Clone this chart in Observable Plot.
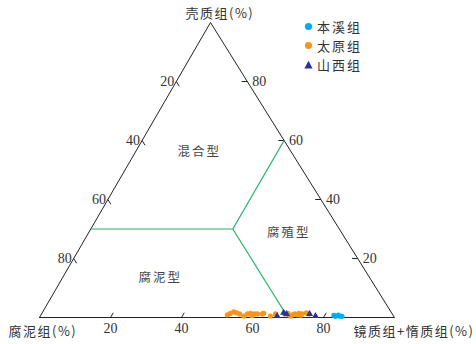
<!DOCTYPE html>
<html><head><meta charset="utf-8">
<script src="https://cdn.jsdelivr.net/npm/d3@7"></script>
<script src="https://cdn.jsdelivr.net/npm/@observablehq/plot@0.6"></script>
<style>
body{margin:0;background:#fff;}
#wrap{position:relative;width:476px;height:344px;}
.legend{position:absolute;left:304px;top:17px;font:13px "Noto Sans CJK SC";color:#333;letter-spacing:2px;}
.legend div{height:19px;line-height:19px;display:flex;align-items:center;}
.legend svg{margin-right:4px;}
</style></head><body><div id="wrap"></div>
<script>
// Ternary components (%): sapropel 腐泥组, vitrinite+inertinite 镜质组+惰质组, exinite 壳质组
const seriesNames = ["本溪组", "太原组", "山西组"];
const seriesColors = ["#00aeef", "#f7941d", "#2e3192"];

const benxiVI = [82.6, 83.2, 83.8, 84.3, 85.0];
const benxiShell = [0.7, 0.4, 0.8, 0.5, 0.4];

const taiyuanVI = [52.5, 53.1, 53.8, 54.7, 55.8, 57.3, 58.0, 58.8, 59.6, 60.0, 60.8, 62.2, 62.5, 64.8, 65.9, 68.5, 69.3, 70.5, 71.0, 71.3, 72.2, 72.4, 73.2, 73.4, 74.4, 75.3];
const taiyuanShell = [0.9, 1.4, 1.9, 1.6, 1.2, 0.5, 1.2, 1.4, 0.6, 1.2, 1.2, 1.2, 1.4, 0.5, 1.2, 1.2, 1.4, 0.5, 1.0, 1.2, 0.9, 1.4, 0.8, 1.2, 1.6, 1.2];

const shanxiVI = [66.7, 68.0, 69.0, 75.5, 77.5];
const shanxiShell = [0.5, 1.6, 1.2, 1.2, 0.5];

const tickValues = [20, 40, 60, 80];

// Class boundary lines: [sapropel, VI, shell]
const boundaryCenter = [30, 40, 30];
const boundaryEnds = [[70, 0, 30], [0, 40, 60], [30, 70, 0]];

const regionNames = ["混合型", "腐殖型", "腐泥型"];
const regionPos = [[26, 18, 56], [15, 56.5, 28.5], [59, 27.5, 13.5]];

const axisTitles = ["壳质组(%)", "腐泥组(%)", "镜质组+惰质组(%)"];

// projection (apex sits at 48.2% of the base width)
const APEX = 0.4817;
const proj = (vi, sh) => ({x: vi / 100 + APEX * sh / 100, y: sh / 100});

const pts = (vis, shs) => vis.map((v, i) => proj(v, shs[i]));
const benxi = pts(benxiVI, benxiShell);
const taiyuan = pts(taiyuanVI, taiyuanShell);
const shanxi = pts(shanxiVI, shanxiShell);

const verts = [proj(0, 0), proj(100, 0), proj(0, 100), proj(0, 0)];

const tl = 1.6;
const bottomTicks = tickValues.map(v => ({a: proj(v, 0), b: proj(v, tl), label: v}));
const rightTicks = tickValues.map(s => ({a: proj(100 - s, s), b: proj(100 - s - tl, s), label: s}));
const leftTicks = tickValues.map(sp => ({a: proj(0, 100 - sp), b: proj(tl, 100 - sp - tl), label: sp}));
const allTicks = [...bottomTicks, ...rightTicks, ...leftTicks];

const bLines = boundaryEnds.map(e => ({a: proj(boundaryCenter[1], boundaryCenter[2]), b: proj(e[1], e[2])}));
const regions = regionNames.map((n, i) => ({...proj(regionPos[i][1], regionPos[i][2]), n}));

const numFont = {fontFamily: "Liberation Serif", fontSize: 14, fill: "#333"};
const cjk = "'Noto Sans CJK SC'";

const plot = Plot.plot({
  width: 476, height: 344,
  marginLeft: 39, marginRight: 82, marginTop: 22, marginBottom: 27,
  x: {domain: [0, 1], axis: null},
  y: {domain: [0, 1], axis: null},
  style: {background: "#fff", overflow: "visible"},
  marks: [
    Plot.line(verts, {x: "x", y: "y", stroke: "#222", strokeWidth: 1}),
    Plot.link(allTicks, {x1: d => d.a.x, y1: d => d.a.y, x2: d => d.b.x, y2: d => d.b.y, stroke: "#222", strokeWidth: 1}),
    Plot.text(bottomTicks, {x: d => d.a.x, y: d => d.a.y, text: "label", dy: 11, ...numFont}),
    Plot.text(rightTicks, {x: d => d.a.x, y: d => d.a.y, text: "label", dx: 5, textAnchor: "start", ...numFont}),
    Plot.text(leftTicks, {x: d => d.a.x, y: d => d.a.y, text: "label", dx: -2, textAnchor: "end", ...numFont}),
    Plot.link(bLines, {x1: d => d.a.x, y1: d => d.a.y, x2: d => d.b.x, y2: d => d.b.y, stroke: "#22b163", strokeWidth: 1.2}),
    Plot.text(regions, {x: "x", y: "y", text: "n", fontFamily: cjk, fontSize: 12.5, fill: "#444"}),
    Plot.dot(taiyuan, {x: "x", y: "y", r: 2.6, fill: seriesColors[1], stroke: null}),
    Plot.dot(shanxi, {x: "x", y: "y", r: 2.6, symbol: "triangle", fill: seriesColors[2], stroke: null}),
    Plot.dot(benxi, {x: "x", y: "y", r: 2.6, fill: seriesColors[0], stroke: null}),
    Plot.text([verts[2]], {x: "x", y: "y", text: [axisTitles[0]], dx: -25, dy: -9, textAnchor: "start", fontFamily: cjk, fontSize: 13, fill: "#333"}),
    Plot.text([verts[0]], {x: "x", y: "y", text: [axisTitles[1]], dx: -31, dy: 14, textAnchor: "start", fontFamily: cjk, fontSize: 13, fill: "#333"}),
    Plot.text([verts[1]], {x: "x", y: "y", text: [axisTitles[2]], dx: -41, dy: 14, textAnchor: "start", fontFamily: cjk, fontSize: 13, fill: "#333"})
  ]
});
plot.querySelectorAll("text").forEach(t => {
  if (/[\u4e00-\u9fff]/.test(t.textContent)) t.style.letterSpacing = regionNames.includes(t.textContent) ? "2px" : "1.5px";
});
const wrap = document.getElementById("wrap");
wrap.appendChild(plot);

const lg = document.createElement("div");
lg.className = "legend";
seriesNames.forEach((n, i) => {
  const row = document.createElement("div");
  const sym = i === 2
    ? `<svg width="9" height="9"><polygon points="4.5,0.8 8.6,8.5 0.4,8.5" fill="${seriesColors[i]}"/></svg>`
    : `<svg width="9" height="9"><circle cx="4.5" cy="4.5" r="3.6" fill="${seriesColors[i]}"/></svg>`;
  row.innerHTML = sym + `<span>${n}</span>`;
  lg.appendChild(row);
});
wrap.appendChild(lg);
</script></body></html>
